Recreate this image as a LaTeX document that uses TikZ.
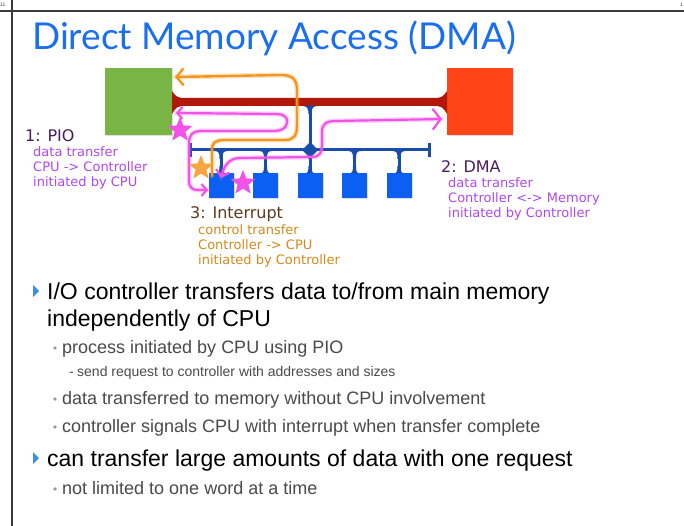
\documentclass[tikz,border=0pt]{standalone}
\usepackage{fontspec}
\setmainfont{Liberation Sans}
\newfontfamily\titlefont{Lato}
\newfontfamily\labfont{DejaVu Sans}
\usetikzlibrary{arrows.meta,shadows,shapes.geometric}

\definecolor{titleblue}{HTML}{1A6EF0}
\definecolor{cpugreen}{HTML}{78B544}
\definecolor{memred}{HTML}{FF4518}
\definecolor{busred}{HTML}{B2180A}
\definecolor{iobus}{HTML}{1A4CAA}
\definecolor{devblue}{HTML}{0B5FF2}
\definecolor{pioink}{HTML}{F252E8}
\definecolor{irqink}{HTML}{F4961E}
\definecolor{piohead}{HTML}{4A1D5C}
\definecolor{piotext}{HTML}{B148EE}
\definecolor{irqhead}{HTML}{5A3C1C}
\definecolor{irqtext}{HTML}{D48A1C}
\definecolor{subgray}{HTML}{4A4A4A}
\definecolor{dotgray}{HTML}{9A9A9A}
\definecolor{bullblue}{HTML}{3E8EE0}
\definecolor{framegray}{HTML}{3A3A3A}

\tikzset{
  txt/.style={inner sep=0pt, anchor=base west},
  unitbox/.style={draw=none, inner sep=0pt, drop shadow={opacity=0.25, shadow xshift=1pt, shadow yshift=-1.5pt}},
  devbox/.style={unitbox, fill=devblue, minimum width=25pt, minimum height=25pt},
  inkglow/.style={line width=5pt, opacity=0.25, line cap=round, line join=round},
  piopath/.style={pioink, line width=2.2pt, line cap=round, line join=round},
  irqpath/.style={irqink, line width=2.4pt, line cap=round, line join=round},
  starmark/.style={star, star points=5, star point ratio=2.3, minimum size=26pt, inner sep=0pt, draw=none},
  lvl1/.style={txt, font=\fontsize{23}{27}\selectfont, text=black},
  lvl2/.style={txt, font=\fontsize{18}{21}\selectfont, text=subgray},
  lvl3/.style={txt, font=\fontsize{14}{17}\selectfont, text=subgray},
  headlab/.style={txt, font=\labfont\fontsize{16}{18}\selectfont},
  sublab/.style={txt, font=\labfont\fontsize{13}{15}\selectfont},
}

\begin{document}
\begin{tikzpicture}[x=1pt, y=-1pt]
\useasboundingbox (0,0) rectangle (684,526);
\fill[white] (0,0) rectangle (684,526);

% page frame
\draw[framegray, line width=1.6pt] (0,11) -- (684,11);
\draw[framegray, line width=1.6pt] (12,0) -- (12,526);
\node[txt, font=\fontsize{5}{5}\selectfont, text=framegray] (pgl) at (0,7) {11};
\node[txt, font=\fontsize{5}{5}\selectfont, text=framegray] (pgr) at (680,7) {1};

% title
\node[txt, font=\titlefont\fontsize{37}{40}\selectfont, text=titleblue] (title) at (32,50) {Direct Memory Access (DMA)};

% CPU, memory and the memory bus
\node[unitbox, fill=cpugreen, minimum width=67pt, minimum height=67pt] (cpu) at (138.5,101.5) {};
\node[unitbox, fill=memred, minimum width=66pt, minimum height=67pt] (mem) at (480,101.5) {};
\fill[busred] (172,91) .. controls (176,97) and (178,98) .. (185,98) -- (434,98)
  .. controls (441,98) and (443,97) .. (447,91) -- (447,114)
  .. controls (443,107) and (441,106) .. (434,106) -- (185,106)
  .. controls (178,106) and (176,107) .. (172,114) -- cycle;

% I/O bus
\draw[iobus, line width=3pt] (190,150) -- (429,150);
\draw[iobus, line width=3pt] (190,143) -- (190,157);
\draw[iobus, line width=3pt] (429,143) -- (429,157);
% bridge from the memory bus
\draw[iobus, line width=3pt] (310,105) -- (310,173);
\fill[iobus] (302,106) .. controls (307,106) and (308.5,108) .. (308.5,114) -- (311.5,114)
  .. controls (311.5,108) and (313,106) .. (318,106) -- cycle;
\fill[iobus] (310,142) -- (318,150) -- (310,158) -- (302,150) -- cycle;

% device stubs
\foreach \c in {221,265.5,310,354.5,399} {
  \draw[iobus, line width=3pt] (\c,150) -- (\c,173);
  \fill[iobus] (\c-7,151) .. controls (\c-2,151) and (\c-1.5,153) .. (\c-1.5,159) -- (\c+1.5,159)
    .. controls (\c+1.5,153) and (\c+2,151) .. (\c+7,151) -- cycle;
  \fill[iobus] (\c-6,173.5) .. controls (\c-2,173.5) and (\c-1.5,171) .. (\c-1.5,166) -- (\c+1.5,166)
    .. controls (\c+1.5,171) and (\c+2,173.5) .. (\c+6,173.5) -- cycle;
}

% I/O controllers
\node[devbox] (dev1) at (221,185.5) {};
\node[devbox] (dev2) at (265.5,185.5) {};
\node[devbox] (dev3) at (310,185.5) {};
\node[devbox] (dev4) at (354.5,185.5) {};
\node[devbox] (dev5) at (399,185.5) {};

% anchor points of the hand-drawn transfers
\coordinate (irqS) at (212,176);
\coordinate (irqE) at (175,77);
\coordinate (pioS) at (176,113);
\coordinate (pioE) at (208,190);
\coordinate (dmaS) at (221,178);
\coordinate (dmaE) at (442,119);

% 3: interrupt, controller -> CPU
\draw[irqink, inkglow] (irqS) -- (212,150) .. controls (212,142) and (216,140) .. (225,140) -- (285,140)
  .. controls (294,140) and (297,135) .. (297,126) -- (297,90) .. controls (297,79) and (292,75) .. (281,75) -- (irqE);
\draw[irqpath, -{Straight Barb[length=7pt, width=17pt, line width=2.4pt]}] (irqS) -- (212,150) .. controls (212,142) and (216,140) .. (225,140) -- (285,140)
  .. controls (294,140) and (297,135) .. (297,126) -- (297,90) .. controls (297,79) and (292,75) .. (281,75) -- (irqE);

% 1: PIO, CPU -> controller
\draw[pioink, inkglow] (pioS) -- (276,114) .. controls (286,114) and (288,119) .. (287,123)
  .. controls (286,129) and (281,131) .. (272,131) -- (200,131) .. controls (193,131) and (189,135) .. (189,143)
  -- (189,181) .. controls (189,187) and (192,190) .. (198,190) -- (pioE);
\draw[piopath, {Straight Barb[length=5pt, width=12pt, line width=2.2pt]}-{Straight Barb[length=5pt, width=12pt, line width=2.2pt]}] (pioS) -- (276,114) .. controls (286,114) and (288,119) .. (287,123)
  .. controls (286,129) and (281,131) .. (272,131) -- (200,131) .. controls (193,131) and (189,135) .. (189,143)
  -- (189,181) .. controls (189,187) and (192,190) .. (198,190) -- (pioE);

% 2: DMA, controller <-> memory
\draw[pioink, inkglow] (dmaS) .. controls (224,166) and (229,158) .. (240,158) -- (312,157)
  .. controls (320,157) and (322,152) .. (322,145) -- (322,132) .. controls (322,124) and (326,121) .. (336,121) -- (dmaE);
\draw[piopath, {Straight Barb[length=6pt, width=14pt, line width=2.2pt]}-{Straight Barb[length=8pt, width=21pt, line width=2.2pt]}] (dmaS) .. controls (224,166) and (229,158) .. (240,158) -- (312,157)
  .. controls (320,157) and (322,152) .. (322,145) -- (322,132) .. controls (322,124) and (326,121) .. (336,121) -- (dmaE);

% initiators
\node[starmark, fill=pioink] (st1) at (180,130) {};
\node[starmark, fill=irqink!85] (st3) at (201,168) {};
\node[starmark, fill=pioink] (st2) at (243,183) {};

% labels
\node[headlab, text=piohead] (l1) at (25,142) {1: PIO};
\node[sublab, text=piotext] (l1a) at (33,157) {data transfer};
\node[sublab, text=piotext] (l1b) at (33,172) {CPU -> Controller};
\node[sublab, text=piotext] (l1c) at (33,187) {initiated by CPU};

\node[headlab, text=piohead] (l2) at (441,173) {2: DMA};
\node[sublab, text=piotext] (l2a) at (448,188) {data transfer};
\node[sublab, text=piotext] (l2b) at (448,203) {Controller <-> Memory};
\node[sublab, text=piotext] (l2c) at (448,218) {initiated by Controller};

\node[headlab, text=irqhead] (l3) at (190,219) {3: Interrupt};
\node[sublab, text=irqtext] (l3a) at (198,235) {control transfer};
\node[sublab, text=irqtext] (l3b) at (198,250) {Controller -> CPU};
\node[sublab, text=irqtext] (l3c) at (198,265) {initiated by Controller};

% bullet list
\fill[bullblue] (33,285) -- (39,291) -- (33,297) -- cycle;
\node[lvl1] (p1) at (47,299) {I/O controller transfers data to/from main memory};
\node[lvl1] (p1b) at (47,326) {independently of CPU};
\fill[dotgray] (55,348) circle (1.8pt);
\node[lvl2] (p2) at (62,353) {process initiated by CPU using PIO};
\node[lvl3] (p3) at (69,376) {-};
\node[lvl3] (p3b) at (77,376) {send request to controller with addresses and sizes};
\fill[dotgray] (55,399) circle (1.8pt);
\node[lvl2] (p4) at (62,404) {data transferred to memory without CPU involvement};
\fill[dotgray] (55,427) circle (1.8pt);
\node[lvl2] (p5) at (62,432) {controller signals CPU with interrupt when transfer complete};
\fill[bullblue] (33,452) -- (39,458) -- (33,464) -- cycle;
\node[lvl1] (p6) at (47,466) {can transfer large amounts of data with one request};
\fill[dotgray] (55,489) circle (1.8pt);
\node[lvl2] (p7) at (62,494) {not limited to one word at a time};
\end{tikzpicture}
\end{document}
